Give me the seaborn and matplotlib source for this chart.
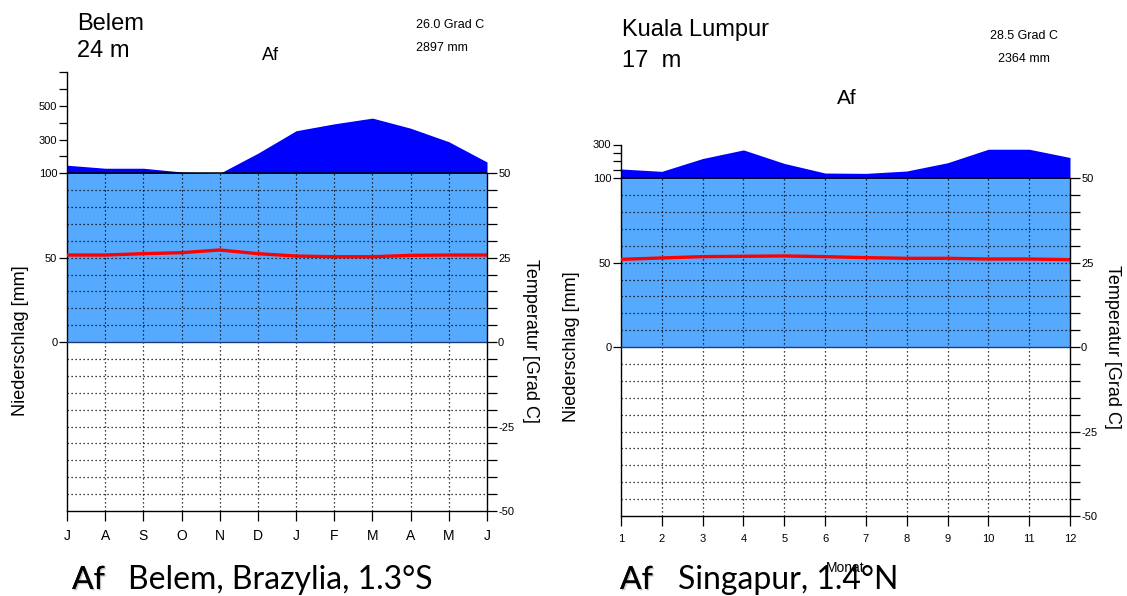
import numpy as np
import pandas as pd
import matplotlib
matplotlib.use("Agg")
import matplotlib.pyplot as plt
import matplotlib.patheffects as pe
import seaborn as sns

sns.set_style("ticks")
plt.rcParams["font.family"] = ["Liberation Sans", "DejaVu Sans"]
plt.rcParams["text.color"] = "black"
plt.rcParams["axes.labelcolor"] = "black"
plt.rcParams["xtick.color"] = "black"
plt.rcParams["ytick.color"] = "black"
plt.rcParams["axes.edgecolor"] = "black"

W, H = 1127, 596

# Belem (Brazil), year shown from July to June
BELEM_MONTHS = ["J", "A", "S", "O", "N", "D", "J", "F", "M", "A", "M", "J"]
BELEM_PRECIP = [148, 130, 130, 108, 100, 219, 352, 393, 427, 367, 287, 167]
BELEM_TEMP = [25.8, 25.8, 26.2, 26.5, 27.3, 26.2, 25.5, 25.3, 25.3, 25.7, 25.8, 25.8]

# Kuala Lumpur, months 1..12
KL_MONTHS = [str(m) for m in range(1, 13)]
KL_PRECIP = [155, 141, 217, 268, 188, 131, 129, 143, 192, 272, 272, 223]
KL_TEMP = [26.0, 26.4, 26.8, 26.9, 27.0, 26.8, 26.5, 26.3, 26.3, 26.1, 26.1, 25.9]

LIGHT_BLUE = "#55aaff"
DARK_BLUE = "#0000ff"


def px(x, y):
    return x / W, 1 - y / H


def precip_scale(p):
    # Walter-Lieth: above 100 mm the scale is reduced to 1/10
    p = np.asarray(p, dtype=float)
    return np.where(p <= 100, p, 100 + (p - 100) / 10)


def draw_panel(ax, months, precip, temp, top_mm, tick_step, labelled_mm, xfont):
    x = np.arange(len(months))
    df = pd.DataFrame({"month": x, "temp2": np.asarray(temp) * 2,
                       "p": precip_scale(precip)})
    ytop = float(precip_scale([top_mm])[0])
    n = len(months) - 1

    ax.set_xlim(0, n)
    ax.set_ylim(-100, ytop)

    ax.fill_between(df["month"], 0, np.minimum(df["p"], 100),
                    color=LIGHT_BLUE, lw=0, zorder=1)
    ax.fill_between(df["month"], 100, np.maximum(df["p"], 100),
                    color=DARK_BLUE, lw=0, zorder=1)

    grid_kw = dict(color="black", lw=0.9, linestyles=(0, (1, 2.2)), zorder=2)
    ax.vlines(x[1:-1], -100, 100, **grid_kw)
    levels = [v for v in range(-90, 100, 10) if v != 0]
    ax.hlines(levels, 0, n, **grid_kw)
    ax.axhline(100, color="black", lw=1.1, zorder=3)
    ax.axhline(0, color="#1a3a80", lw=1.0, zorder=3)

    sns.lineplot(data=df, x="month", y="temp2", color="red", lw=2.4,
                 ax=ax, zorder=5)

    # precipitation axis
    extra = list(range(100 + tick_step, top_mm + 1, tick_step))
    yt = [0, 50, 100] + [float(precip_scale([m])[0]) for m in extra]
    yl = ["0", "50", "100"] + [str(m) if m in labelled_mm else "" for m in extra]
    ax.set_yticks(yt)
    ax.set_yticklabels(yl)
    ax.tick_params(axis="y", direction="out", length=6, width=0.9,
                   labelsize=8, pad=1)
    ax.set_xticks(x)
    ax.set_xticklabels(months)
    ax.tick_params(axis="x", direction="out", length=7, width=0.9,
                   labelsize=xfont, pad=6)
    ax.set_xlabel("")
    ax.set_ylabel("")
    for s in ["top", "right"]:
        ax.spines[s].set_visible(False)
    ax.spines["left"].set_linewidth(1.0)
    ax.spines["bottom"].set_linewidth(1.0)

    # temperature axis
    ax2 = ax.twinx()
    ax2.set_ylim(-50, ytop / 2)
    ax2.spines["right"].set_bounds(-50, 50)
    ax2.spines["right"].set_linewidth(1.0)
    for s in ["top", "left", "bottom"]:
        ax2.spines[s].set_visible(False)
    tt = np.arange(-50, 51, 5)
    ax2.set_yticks(tt)
    ax2.set_yticklabels([str(t) if t % 25 == 0 else "" for t in tt])
    ax2.tick_params(axis="y", direction="out", length=7, width=0.9,
                    labelsize=8, pad=1)
    return ax, ax2


fig = plt.figure(figsize=(W / 100, H / 100), dpi=100)

# left panel: Belem
axL = fig.add_axes([67 / W, 1 - 511 / H, 420 / W, 439 / H])
draw_panel(axL, BELEM_MONTHS, BELEM_PRECIP, BELEM_TEMP, 700, 100, [300, 500], 10)

# right panel: Kuala Lumpur
axR = fig.add_axes([621 / W, 1 - 516 / H, 449 / W, 371.5 / H])
draw_panel(axR, KL_MONTHS, KL_PRECIP, KL_TEMP, 300, 50, [300], 8)
axR.set_xlabel("Monat", fontsize=10, labelpad=12)

# headers
fig.text(*px(77, 30), "Belem", fontsize=17, ha="left", va="baseline")
fig.text(*px(77, 57), "24 m", fontsize=17, ha="left", va="baseline")
fig.text(*px(270, 60), "Af", fontsize=13, ha="center", va="baseline")
fig.text(*px(416, 28), "26.0 Grad C", fontsize=9, ha="left", va="baseline")
fig.text(*px(416, 51), "2897 mm", fontsize=9, ha="left", va="baseline")

fig.text(*px(622, 36), "Kuala Lumpur", fontsize=17, ha="left", va="baseline")
fig.text(*px(622, 67), "17  m", fontsize=17, ha="left", va="baseline")
fig.text(*px(847, 104), "Af", fontsize=15, ha="center", va="baseline")
fig.text(*px(1024, 39), "28.5 Grad C", fontsize=9, ha="center", va="baseline")
fig.text(*px(1024, 62), "2364 mm", fontsize=9, ha="center", va="baseline")

# axis titles
fig.text(*px(21, 341), "Niederschlag [mm]", fontsize=13, rotation=90,
         ha="center", va="center")
fig.text(*px(530, 341), "Temperatur [Grad C]", fontsize=13, rotation=-90,
         ha="center", va="center")
fig.text(*px(572, 347), "Niederschlag [mm]", fontsize=13, rotation=90,
         ha="center", va="center")
fig.text(*px(1113, 347), "Temperatur [Grad C]", fontsize=13, rotation=-90,
         ha="center", va="center")

# captions
shadow = [pe.withSimplePatchShadow(offset=(1, -1), shadow_rgbFace="#888888",
                                   alpha=0.5), pe.Normal()]
cap_kw = dict(fontsize=23, ha="left", va="baseline", family=["Lato", "DejaVu Sans"])
fig.text(*px(72, 589), "Af", path_effects=shadow, **cap_kw)
fig.text(*px(128, 589), "Belem, Brazylia, 1.3°S", **cap_kw)
fig.text(*px(620, 589), "Af", path_effects=shadow, **cap_kw)
fig.text(*px(678, 589), "Singapur, 1.4°N", **cap_kw)

fig.savefig("out.png", dpi=100, facecolor="white")
